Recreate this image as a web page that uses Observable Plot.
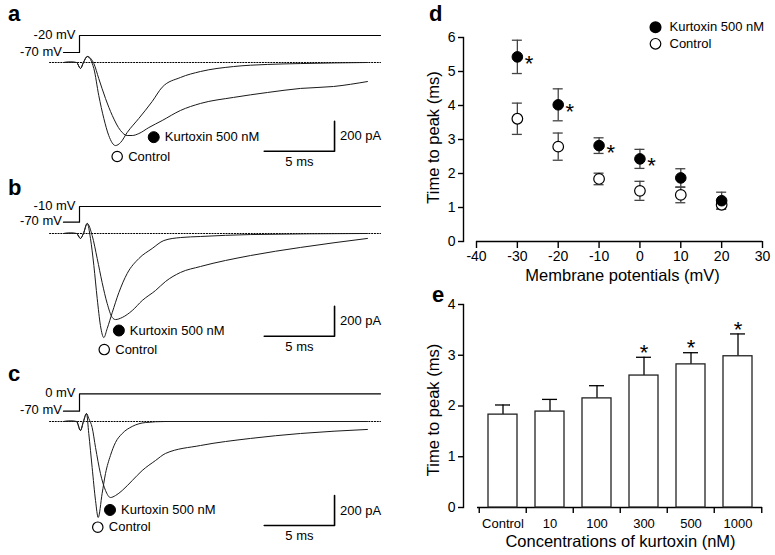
<!DOCTYPE html>
<html>
<head>
<meta charset="utf-8">
<script src="https://cdn.jsdelivr.net/npm/d3@7"></script>
<script src="https://cdn.jsdelivr.net/npm/@observablehq/plot@0.6"></script>
<style>
  html, body { margin: 0; padding: 0; background: #fff; }
  #fig { position: relative; width: 775px; height: 555px; overflow: hidden; background: #fff;
         font-family: 'Liberation Sans', Arial, Helvetica, sans-serif; }
</style>
</head>
<body>
<div id="fig"></div>
<script>
// ================= DATA =================
// Panels a–c: whole-cell current traces (time in ms from step onset, current in pA)
const aCtrlT = [-1.14,-0.64,-0.21,0.07,0.28,0.55,1.02,1.37,1.73,2.08,2.56,2.92,3.39,4.22,5.17,5.88,7.18,8.61,10.95,13.37,15.72,20.48];
const aCtrlI = [0,3,0,-40,0,40,-40,-220,-373,-487,-554,-534,-467,-373,-260,-165,-100,-60,-27,-13,-7,0];
const aKurtT = [-1.14,-0.64,-0.21,0.07,0.28,0.55,1.02,1.37,1.85,2.33,2.92,3.39,3.75,4.22,4.93,5.88,7.18,8.61,10.95,13.37,15.72,18.07,20.48];
const aKurtI = [0,3,0,-40,0,40,-7,-107,-240,-353,-454,-487,-487,-474,-434,-387,-320,-273,-233,-200,-173,-160,-127];

const bCtrlT = [-1.14,-0.64,-0.21,0.07,0.28,0.55,0.78,1.02,1.26,1.49,1.73,1.97,2.33,2.80,3.39,4.22,5.17,6.00,7.18,8.61,12.16,20.48];
const bCtrlI = [0,3,0,-33,0,67,-33,-213,-434,-614,-694,-634,-527,-394,-267,-167,-100,-47,-27,-20,-7,0];
const bKurtT = [-1.14,-0.64,-0.21,0.07,0.28,0.55,0.90,1.26,1.61,1.97,2.33,2.56,3.04,3.75,4.46,5.41,6.12,7.18,8.61,12.16,15.72,20.48];
const bKurtI = [0,3,0,-33,0,67,-13,-167,-327,-467,-560,-574,-560,-514,-447,-380,-320,-260,-220,-147,-93,-33];

const cCtrlT = [-1.14,-0.64,-0.21,0.07,0.28,0.50,0.66,0.90,1.14,1.33,1.61,1.85,2.20,2.56,3.04,3.75,4.69,6.12,20.48];
const cCtrlI = [0,3,0,-60,0,53,-80,-307,-527,-640,-480,-347,-227,-140,-80,-33,-7,0,0];
const cKurtT = [-1.14,-0.64,-0.21,0.07,0.28,0.50,0.66,0.90,1.14,1.49,1.85,2.20,2.56,3.04,3.75,4.46,5.41,6.12,8.61,12.16,15.72,20.48];
const cKurtI = [0,3,0,-60,0,53,20,-40,-173,-347,-460,-507,-494,-460,-394,-327,-260,-213,-160,-113,-80,-53];

// Voltage protocol
const holdingV = -70;
const commandV = [-20, -10, 0];            // panels a, b, c
const stepT = [-1.14, 0, 21.41];           // start of holding, step onset, end of step (ms)
const baselineSpan = [-2.13, 21.41];       // dotted zero-current line (ms)

// Scale bars (5 ms / 200 pA) and annotation anchors (ms, pA)
const scaleMs = 5, scalePA = 200, scaleEndT = 18.14;
const scaleBottomI = [-592, -685, -694];
const annKurt = [[5.28, -498], [2.80, -647], [2.17, -590]];
const annCtrl = [[2.68, -627], [1.76, -774], [1.30, -705]];
const kurtLabel = "Kurtoxin 500 nM", ctrlLabel = "Control";

// Panel d: time to peak vs membrane potential
const dPotential = [-30, -20, -10, 0, 10, 20];
const dKurtMean  = [5.43, 4.02, 2.82, 2.43, 1.87, 1.20];
const dKurtSem   = [0.49, 0.47, 0.23, 0.28, 0.27, 0.25];
const dCtrlMean  = [3.61, 2.79, 1.84, 1.49, 1.37, 1.08];
const dCtrlSem   = [0.46, 0.40, 0.17, 0.28, 0.23, 0.13];
const dSignificant = [true, true, true, true, false, false];
const dXTicks = [-40, -30, -20, -10, 0, 10, 20, 30];
const dYTicks = [0, 1, 2, 3, 4, 5, 6];
const dXLabel = "Membrane potentials (mV)";
const dYLabel = "Time to peak (ms)";

// Panel e: time to peak vs kurtoxin concentration
const eConc = ["Control", "10", "100", "300", "500", "1000"];
const eMean = [1.83, 1.89, 2.15, 2.60, 2.82, 2.98];
const eSem  = [0.19, 0.24, 0.25, 0.36, 0.23, 0.44];
const eSignificant = [false, false, false, true, true, true];
const eYTicks = [0, 1, 2, 3, 4];
const eXLabel = "Concentrations of kurtoxin (nM)";
const eYLabel = "Time to peak (ms)";

const panelLetters = ["a", "b", "c", "d", "e"];

// ================= LAYOUT / HELPERS =================
const FONT = "'Liberation Sans', Arial, Helvetica, sans-serif";
const fig = document.getElementById("fig");
const baseStyle = {fontFamily: FONT, fontSize: "13px", background: "transparent", overflow: "visible", color: "black"};
function place(svg, left, top) {
  svg.style.position = "absolute";
  svg.style.left = left + "px";
  svg.style.top = top + "px";
  svg.style.maxWidth = "none";
  fig.appendChild(svg);
}

const PX_PER_MS = 14.06, PA_PER_PX = 6.67, ONSET_PX = 79, TRACE_W = 390;
const xTrace = {domain: [-ONSET_PX / PX_PER_MS, (TRACE_W - ONSET_PX) / PX_PER_MS], range: [0, TRACE_W], axis: null};
const rows = (T, I) => T.map((t, i) => ({t, I: I[i]}));

function stepPanel(top, yLowPx, yHighPx, vHigh) {
  const data = stepT.map((t, i) => ({t, v: i === 0 ? holdingV : vHigh}));
  return Plot.plot({
    width: TRACE_W, height: 36, margin: 0,
    x: xTrace,
    y: {domain: [holdingV, vHigh], range: [yLowPx - top, yHighPx - top], axis: null},
    style: baseStyle,
    marks: [
      Plot.line(data, {x: "t", y: "v", curve: "step-after", stroke: "black", strokeWidth: 1.2}),
      Plot.text([data[1]], {x: "t", y: "v", text: d => `${d.v} mV`, textAnchor: "end", dx: -4, dy: -1, fontSize: 13}),
      Plot.text([data[0]], {x: "t", y: "v", text: d => `${d.v} mV`, textAnchor: "end", dx: -1.5, dy: -1, fontSize: 13})
    ]
  });
}

function tracePanel(k, top, height, baseY, ctrl, kurt) {
  const y = {domain: [-(top + height - baseY) * PA_PER_PX, (baseY - top) * PA_PER_PX], range: [height, 0], axis: null};
  const I0 = scaleBottomI[k];
  const bar = [{t: scaleEndT - scaleMs, I: I0}, {t: scaleEndT, I: I0}, {t: scaleEndT, I: I0 + scalePA}];
  const base = baselineSpan.map(t => ({t, I: 0}));
  const kAnn = [{t: annKurt[k][0], I: annKurt[k][1], label: kurtLabel}];
  const cAnn = [{t: annCtrl[k][0], I: annCtrl[k][1], label: ctrlLabel}];
  return Plot.plot({
    width: TRACE_W, height, margin: 0, x: xTrace, y, style: baseStyle,
    marks: [
      Plot.line(base, {x: "t", y: "I", stroke: "black", strokeWidth: 1, strokeDasharray: "1.2,1.6"}),
      Plot.line(ctrl, {x: "t", y: "I", curve: "monotone-x", stroke: "#1a1a1a", strokeWidth: 1}),
      Plot.line(kurt, {x: "t", y: "I", curve: "monotone-x", stroke: "#1a1a1a", strokeWidth: 1}),
      Plot.line(bar, {x: "t", y: "I", stroke: "black", strokeWidth: 1.6}),
      Plot.text([bar[1]], {x: "t", y: d => d.I + scalePA / 2, text: () => `${scalePA} pA`, textAnchor: "start", dx: 5.5, fontSize: 13}),
      Plot.text([bar[0]], {x: d => d.t + scaleMs / 2, y: "I", text: () => `${scaleMs} ms`, dy: 10.5, fontSize: 13}),
      Plot.dot(kAnn, {x: "t", y: "I", r: 5.5, fill: "black", stroke: "black", strokeWidth: 1}),
      Plot.dot(cAnn, {x: "t", y: "I", r: 5.2, fill: "white", stroke: "black", strokeWidth: 1.2}),
      Plot.text(kAnn.concat(cAnn), {x: "t", y: "I", text: "label", textAnchor: "start", dx: 11, fontSize: 13})
    ]
  });
}

// ================= PANELS a, b, c =================
place(stepPanel(24, 52, 35, commandV[0]), 0, 24);
place(tracePanel(0, 40, 135, 62, rows(aCtrlT, aCtrlI), rows(aKurtT, aKurtI)), 0, 40);

place(stepPanel(195, 221.7, 206, commandV[1]), 0, 195);
place(tracePanel(1, 213, 150, 233, rows(bCtrlT, bCtrlI), rows(bKurtT, bKurtI)), 0, 213);

place(stepPanel(382, 410.7, 393.3, commandV[2]), 0, 382);
place(tracePanel(2, 400, 155, 421, rows(cCtrlT, cCtrlI), rows(cKurtT, cKurtI)), 0, 400);

// ================= PANEL d =================
const D = {left: 400, top: 0, width: 375, height: 285, mL: 63, mR: 13, mT: 37, mB: 44, inset: 13};
const dRows = dPotential.map((v, i) => ({v, kMean: dKurtMean[i], kSem: dKurtSem[i], cMean: dCtrlMean[i], cSem: dCtrlSem[i], sig: dSignificant[i]}));
const dPxPerMv = (D.width - D.mR - D.mL - D.inset) / (dXTicks[dXTicks.length - 1] - dXTicks[0]);
const capHalf = 5 / dPxPerMv;
const caps = (mean, sem) => dRows.flatMap(d => [d[mean] - d[sem], d[mean] + d[sem]].map(y => ({v: d.v, y})));
const errColor = "#444";

const dPlot = Plot.plot({
  width: D.width, height: D.height,
  marginLeft: D.mL, marginRight: D.mR, marginTop: D.mT, marginBottom: D.mB,
  x: {domain: [dXTicks[0], dXTicks[dXTicks.length - 1]], insetLeft: D.inset, label: null},
  y: {domain: [dYTicks[0], dYTicks[dYTicks.length - 1]], label: null},
  style: baseStyle,
  marks: [
    Plot.frame({anchor: "left", strokeWidth: 1.4}),
    Plot.ruleY([0], {insetLeft: D.inset, strokeWidth: 1.4}),
    Plot.axisY({ticks: dYTicks, tickSize: 5, tickPadding: 3, fontSize: 14, label: null, strokeWidth: 1.4, tickFormat: d => String(d)}),
    Plot.axisX({ticks: dXTicks, tickSize: 7, tickPadding: 3, fontSize: 14, label: null, strokeWidth: 1.4, tickFormat: d => String(d)}),
    Plot.ruleX(dRows, {x: "v", y1: d => d.cMean - d.cSem, y2: d => d.cMean + d.cSem, stroke: errColor, strokeWidth: 1.3}),
    Plot.ruleY(caps("cMean", "cSem"), {y: "y", x1: d => d.v - capHalf, x2: d => d.v + capHalf, stroke: errColor, strokeWidth: 1.3}),
    Plot.ruleX(dRows, {x: "v", y1: d => d.kMean - d.kSem, y2: d => d.kMean + d.kSem, stroke: errColor, strokeWidth: 1.3}),
    Plot.ruleY(caps("kMean", "kSem"), {y: "y", x1: d => d.v - capHalf, x2: d => d.v + capHalf, stroke: errColor, strokeWidth: 1.3}),
    Plot.dot(dRows, {x: "v", y: "cMean", r: 5.3, fill: "white", stroke: "black", strokeWidth: 1.2}),
    Plot.dot(dRows, {x: "v", y: "kMean", r: 5.3, fill: "black", stroke: "black", strokeWidth: 1}),
    Plot.text(dRows.filter(d => d.sig), {x: "v", y: "kMean", text: () => "*", dx: 11.6, dy: 7.2, fontSize: 22}),
    Plot.text([dYLabel], {frameAnchor: "left", text: d => d, rotate: -90, textAnchor: "middle", lineAnchor: "middle", dx: -30, dy: -2, fontSize: 16.5}),
    Plot.text([dXLabel], {frameAnchor: "bottom", text: d => d, textAnchor: "middle", lineAnchor: "middle", dx: 9.5, dy: 34, fontSize: 16.5}),
    // legend
    Plot.dot([kurtLabel], {frameAnchor: "top-left", dx: 192, dy: -10.3, r: 5.3, fill: "black", stroke: "black"}),
    Plot.dot([ctrlLabel], {frameAnchor: "top-left", dx: 192, dy: 6.3, r: 5.3, fill: "white", stroke: "black", strokeWidth: 1.2}),
    Plot.text([kurtLabel], {frameAnchor: "top-left", text: d => d, dx: 206, dy: -10.5, textAnchor: "start", lineAnchor: "middle", fontSize: 13}),
    Plot.text([ctrlLabel], {frameAnchor: "top-left", text: d => d, dx: 206, dy: 6.1, textAnchor: "start", lineAnchor: "middle", fontSize: 13})
  ]
});
place(dPlot, D.left, D.top);

// ================= PANEL e =================
const E = {left: 400, top: 265, width: 375, height: 290, mL: 63, mR: 13, mT: 39, mB: 48, inset: 14};
const eRows = eConc.map((conc, i) => ({conc, mean: eMean[i], hi: eMean[i] + eSem[i], sig: eSignificant[i]}));
const eStep = (E.width - E.mR - E.mL - E.inset) / eConc.length;

const ePlot = Plot.plot({
  width: E.width, height: E.height,
  marginLeft: E.mL, marginRight: E.mR, marginTop: E.mT, marginBottom: E.mB,
  x: {type: "band", domain: eConc, insetLeft: E.inset, paddingInner: 0.39, paddingOuter: 0.195, label: null},
  y: {domain: [eYTicks[0], eYTicks[eYTicks.length - 1]], label: null},
  style: baseStyle,
  marks: [
    Plot.frame({anchor: "left", strokeWidth: 1.4}),
    Plot.ruleY([0], {insetLeft: E.inset, strokeWidth: 1.4}),
    Plot.axisY({ticks: eYTicks, tickSize: 5, tickPadding: 3, fontSize: 14, label: null, strokeWidth: 1.4, tickFormat: d => String(d)}),
    Plot.axisX({tickSize: 6, dx: -eStep / 2, fill: "none", label: null, strokeWidth: 1.4}),
    Plot.axisX({ticks: [eConc[eConc.length - 1]], tickSize: 6, dx: eStep / 2, fill: "none", label: null, strokeWidth: 1.4}),
    Plot.axisX({tickSize: 0, tickPadding: 11.5, fontSize: 13, label: null}),
    Plot.ruleX(eRows, {x: "conc", y1: "mean", y2: "hi", stroke: "black", strokeWidth: 1.3}),
    Plot.tickY(eRows, {x: "conc", y: "hi", insetLeft: 7, insetRight: 7, stroke: "black", strokeWidth: 1.3}),
    Plot.barY(eRows, {x: "conc", y: "mean", fill: "white", stroke: "#222", strokeWidth: 1.3}),
    Plot.text(eRows.filter(d => d.sig), {x: "conc", y: "hi", text: () => "*", dy: -4.4, fontSize: 22}),
    Plot.text([eYLabel], {frameAnchor: "left", text: d => d, rotate: -90, textAnchor: "middle", lineAnchor: "middle", dx: -30, dy: 4, fontSize: 16.5}),
    Plot.text([eXLabel], {frameAnchor: "bottom", text: d => d, textAnchor: "middle", lineAnchor: "middle", dx: 7.5, dy: 34, fontSize: 16.5})
  ]
});
place(ePlot, E.left, E.top);

// ================= PANEL LETTERS =================
const letterPos = [[8, 21], [8, 195], [8, 381], [429, 21], [432, 302]];
const overlay = d3.create("svg").attr("width", 775).attr("height", 555)
  .style("position", "absolute").style("left", "0px").style("top", "0px").style("overflow", "visible");
overlay.selectAll("text").data(panelLetters).join("text")
  .attr("x", (d, i) => letterPos[i][0]).attr("y", (d, i) => letterPos[i][1])
  .attr("font-family", FONT).attr("font-weight", "bold").attr("font-size", 22)
  .text(d => d);
fig.appendChild(overlay.node());
</script>
</body>
</html>
